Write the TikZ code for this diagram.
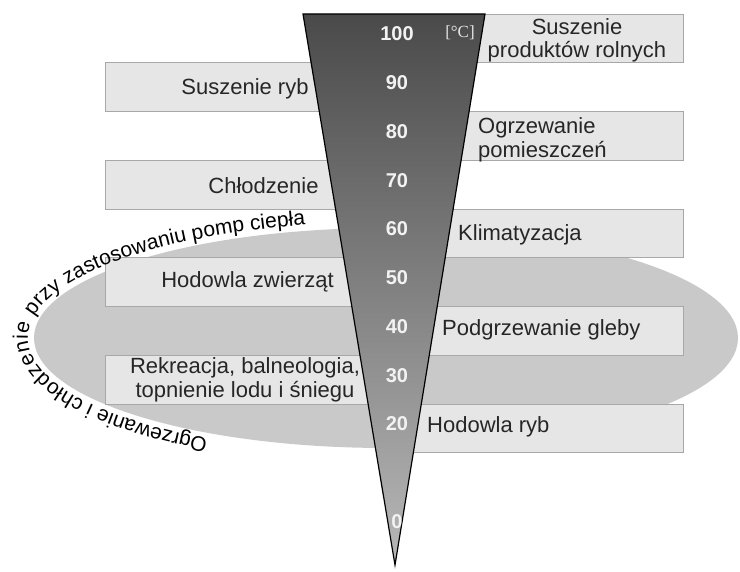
\documentclass[tikz,border=0pt]{standalone}
\usepackage{fontspec}
\setmainfont{Liberation Sans}
\newfontfamily\unitfont{Liberation Serif}
\usetikzlibrary{decorations.text}
\definecolor{boxfill}{HTML}{E6E6E6}
\definecolor{boxline}{HTML}{A8A8A8}
\definecolor{ovalfill}{HTML}{C9C9C9}
\definecolor{conetop}{HTML}{4A4A4A}
\definecolor{conebottom}{HTML}{B8B8B8}

\begin{document}
\begin{tikzpicture}[x=1pt,y=1pt,
  appbox/.style={draw=boxline,fill=boxfill,line width=0.8pt},
  applabel/.style={font=\fontsize{22}{23.5}\selectfont,text=black!85,inner sep=0pt,align=center},
  templabel/.style={font=\fontsize{20}{22}\selectfont\bfseries,text=white!95!black,inner sep=0pt}]
  \useasboundingbox (0,0) rectangle (740,572);

  % owal: pompy ciepla
  \fill[ovalfill] (386,234) ellipse[x radius=352,y radius=110];

  % prostokaty zastosowan, na przemian prawo / lewo
  \foreach \k in {0,2,4,6,8}
    \draw[appbox] (395,{558-(\k+1)*48.75}) rectangle (683,{558-\k*48.75});
  \foreach \k in {1,3,5,7}
    \draw[appbox] (105,{558-(\k+1)*48.75}) rectangle (395,{558-\k*48.75});

  % napis wzdluz owalu
  \path[decorate,decoration={text along path,raise=3pt,text align=left,
    text={|\fontsize{21}{23}\selectfont|Ogrzewanie i chłodzenie przy zastosowaniu pomp ciepła}}]
    (386,234) ++(240:355 and 113) arc[start angle=240,end angle=90,x radius=355,y radius=113];

  % skala temperatury
  \draw[line width=1.2pt,top color=conetop,bottom color=conebottom]
    (303,558) -- (485,558) -- (395,7) -- cycle;
  \foreach \t in {100,90,...,20,0}
    \node[templabel] (t\t) at (397,{538-(100-\t)*4.875}) {\t};
  \node[font=\unitfont\fontsize{17}{18}\selectfont,text=white!90!black,inner sep=0pt] (unit) at (460,539) {[°C]};

  % prawa strona
  \node[applabel] (dryagri) at (577,531.5) {Suszenie\\produktów rolnych};
  \node[applabel,anchor=west,align=left] (heating) at (478,432) {Ogrzewanie\\pomieszczeń};
  \node[applabel,anchor=west] (aircon) at (458,337) {Klimatyzacja};
  \node[applabel,anchor=west] (soil) at (442,242) {Podgrzewanie gleby};
  \node[applabel,anchor=west] (fishfarm) at (427,145) {Hodowla ryb};

  % lewa strona
  \node[applabel] (dryfish) at (245,483) {Suszenie ryb};
  \node[applabel] (cooling) at (263.5,386) {Chłodzenie};
  \node[applabel] (livestock) at (247.5,290) {Hodowla zwierząt};
  \node[applabel] (recreation) at (245,192) {Rekreacja, balneologia,\\topnienie lodu i śniegu};
\end{tikzpicture}
\end{document}
